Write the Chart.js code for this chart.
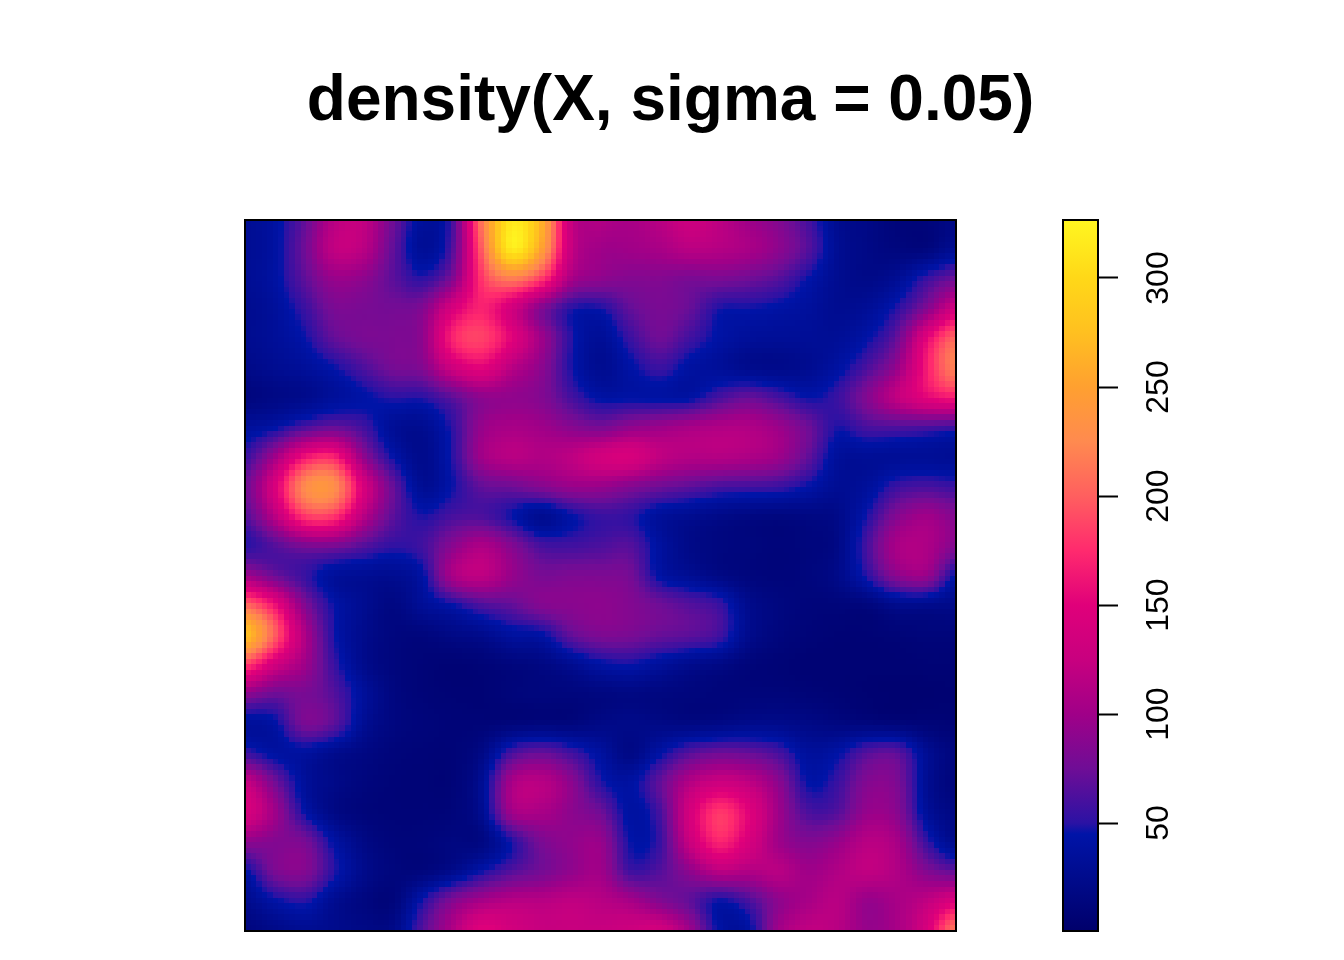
<!DOCTYPE html>
<html>
<head>
<meta charset="utf-8">
<title>density(X, sigma = 0.05)</title>
<script src="https://cdn.jsdelivr.net/npm/chart.js@4"></script>
<style>
  html, body { margin: 0; padding: 0; background: #fff; overflow: hidden; }
  canvas { position: absolute; top: 0; }
  #heat { left: 0; }
  #bar { left: 1000px; }
</style>
</head>
<body>
<canvas id="heat" width="1344" height="960"></canvas>
<canvas id="bar" width="344" height="960"></canvas>
<script>
/* =================================================
  Data (top row first)
==================================================== */

const titleText = 'density(X, sigma = 0.05)';

const density = [
  [30,40,70,115,120,75,35,60,215,315,265,125,110,105,115,128,118,100,85,60,28,20,12,12,20],
  [30,40,75,120,115,70,32,65,200,315,250,125,100,100,105,115,112,105,90,65,30,20,15,15,30],
  [30,40,68,95,90,68,52,85,180,215,180,105,90,85,85,80,80,75,65,45,28,22,30,55,75],
  [27,35,55,80,80,78,85,140,170,135,85,50,47,70,80,72,48,46,42,36,28,32,50,85,135],
  [27,33,45,70,80,82,92,170,185,150,100,50,32,55,75,58,42,34,32,32,32,44,72,150,205],
  [22,28,34,45,62,78,85,130,150,115,90,48,28,42,55,40,34,26,24,28,40,62,95,165,220],
  [15,20,25,35,43,50,50,68,90,92,85,60,42,43,42,42,60,72,60,46,55,85,120,150,165],
  [35,43,62,72,58,32,28,52,95,105,100,88,80,92,98,105,110,110,98,75,48,60,62,60,56],
  [55,100,160,170,92,45,25,50,100,115,110,118,135,140,120,112,112,108,98,70,35,32,32,32,30],
  [75,140,225,230,140,72,30,46,70,75,85,95,95,85,75,68,60,58,55,44,30,35,55,60,55],
  [65,115,180,180,115,68,48,60,62,46,28,44,55,52,35,28,22,18,16,18,22,48,85,100,85],
  [50,65,80,80,65,52,58,88,108,85,60,58,62,65,38,22,16,14,12,14,20,60,105,108,85],
  [100,75,55,35,30,28,42,105,118,95,80,82,82,78,42,30,20,14,12,14,22,50,88,95,42],
  [205,160,85,45,28,18,32,45,62,70,85,88,90,85,75,65,55,25,16,12,12,14,25,25,22],
  [275,200,110,48,25,15,14,20,25,38,42,70,82,80,72,68,58,25,14,10,8,8,10,12,12],
  [185,135,100,55,25,14,10,8,10,14,18,28,42,46,36,26,20,12,9,7,7,7,7,8,8],
  [90,75,80,65,35,16,10,8,8,12,14,14,16,18,16,14,12,12,12,10,8,6,5,5,6],
  [35,42,80,68,30,16,12,10,10,12,14,14,20,22,20,18,20,24,24,20,16,14,12,10,8],
  [55,40,38,26,18,12,10,10,20,60,72,58,38,20,42,65,75,72,60,36,42,65,68,30,14],
  [125,78,35,22,14,10,9,10,30,105,115,90,50,40,70,112,130,120,90,45,55,85,82,30,12],
  [140,100,45,20,12,10,10,12,28,100,105,90,75,40,60,135,180,150,100,62,65,95,88,35,18],
  [90,85,80,42,20,12,12,16,18,48,80,92,95,46,55,125,170,140,100,85,95,115,105,55,25],
  [42,80,85,50,24,14,14,25,46,65,78,92,100,58,65,90,115,110,115,100,110,120,110,85,70],
  [25,42,50,28,16,13,48,85,105,115,115,120,115,105,85,70,45,60,90,105,115,95,105,120,145],
  [15,22,28,25,20,22,65,110,150,135,125,125,125,130,135,100,42,40,100,120,115,95,105,140,215]
];

const colourValues = [0.5, 45, 50, 75, 100, 125, 150, 175, 200, 225, 250, 275, 300, 326.6];
const colourStops = ['#00006b', '#0014a8', '#2b12a4', '#6f0d96', '#a00088', '#c8007f', '#e0007a',
  '#ff2a6e', '#ff5f5f', '#ff8a4f', '#ffa030', '#ffc020', '#ffd818', '#fff620'];
const barTicks = [50, 100, 150, 200, 250, 300];

const imageCells = 128;

/* =================================================
  Colour helpers
==================================================== */

const stopRgb = colourStops.map(c => [1, 3, 5].map(i => parseInt(c.substr(i, 2), 16)));

function colourFor(v) {
  const last = colourValues.length - 1;
  if (v <= colourValues[0]) return stopRgb[0];
  if (v >= colourValues[last]) return stopRgb[last];
  let i = 0;
  while (colourValues[i + 1] < v) i++;
  const t = (v - colourValues[i]) / (colourValues[i + 1] - colourValues[i]);
  return stopRgb[i].map((c, k) => c + (stopRgb[i + 1][k] - c) * t);
}

// smooth resampling of the read grid, only for painting the image
function cubic(a, b, c, d, t) {
  return b + 0.5 * t * (c - a + t * (2 * a - 5 * b + 4 * c - d + t * (3 * (b - c) + d - a)));
}

function sampleGrid(gx, gy) {
  const n = density.length - 1;
  const px = gx * n, py = gy * n;
  const ix = Math.min(Math.floor(px), n - 1), iy = Math.min(Math.floor(py), n - 1);
  const clamp = i => Math.max(0, Math.min(n, i));
  const rows = [-1, 0, 1, 2].map(r => {
    const row = density[clamp(iy + r)];
    return cubic(row[clamp(ix - 1)], row[ix], row[ix + 1], row[clamp(ix + 2)], px - ix);
  });
  return cubic(rows[0], rows[1], rows[2], rows[3], py - iy);
}

/* =================================================
  Density image
==================================================== */

const heatPoints = [];
density.forEach((row, j) => {
  row.forEach((v, i) => {
    heatPoints.push({ x: i / (row.length - 1), y: 1 - j / (density.length - 1), v: v });
  });
});

const heatPlugin = {
  id: 'heatImage',
  beforeDatasetsDraw(chart) {
    const { ctx, scales: { x, y } } = chart;
    const off = document.createElement('canvas');
    off.width = imageCells;
    off.height = imageCells;
    const offCtx = off.getContext('2d');
    const img = offCtx.createImageData(imageCells, imageCells);
    for (let r = 0; r < imageCells; r++) {
      for (let c = 0; c < imageCells; c++) {
        const rgb = colourFor(sampleGrid((c + 0.5) / imageCells, (r + 0.5) / imageCells));
        const p = (r * imageCells + c) * 4;
        img.data[p] = rgb[0];
        img.data[p + 1] = rgb[1];
        img.data[p + 2] = rgb[2];
        img.data[p + 3] = 255;
      }
    }
    offCtx.putImageData(img, 0, 0);
    const left = x.getPixelForValue(0), right = x.getPixelForValue(1);
    const top = y.getPixelForValue(1), bottom = y.getPixelForValue(0);
    ctx.save();
    ctx.imageSmoothingEnabled = false;
    ctx.drawImage(off, left, top, right - left, bottom - top);
    ctx.lineWidth = 2;
    ctx.strokeStyle = '#000';
    ctx.strokeRect(left, top, right - left, bottom - top);
    ctx.restore();
  }
};

new Chart(document.getElementById('heat'), {
  type: 'scatter',
  data: { datasets: [{ label: 'density', data: heatPoints, pointRadius: 0 }] },
  options: {
    responsive: false,
    animation: false,
    layout: { padding: { top: 64, bottom: 29, left: 0, right: 3 } },
    scales: {
      x: { type: 'linear', min: 0, max: 1, display: false },
      y: {
        type: 'linear', min: 0, max: 1, position: 'left',
        ticks: { display: false }, grid: { display: false }, border: { display: false },
        afterFit: s => { s.width = 245; }
      },
      yRight: {
        type: 'linear', min: 0, max: 1, position: 'right',
        ticks: { display: false }, grid: { display: false }, border: { display: false },
        afterFit: s => { s.width = 385; }
      }
    },
    plugins: {
      legend: { display: false },
      tooltip: { enabled: false },
      title: {
        display: true,
        text: titleText,
        color: '#000',
        font: { family: '"Liberation Sans"', size: 64, weight: 'bold' },
        padding: { top: 0, bottom: 79.2 }
      }
    }
  },
  plugins: [heatPlugin]
});

/* =================================================
  Colour bar
==================================================== */

const barPlugin = {
  id: 'colourBar',
  beforeDatasetsDraw(chart) {
    const { ctx, chartArea: a, scales: { y } } = chart;
    const grad = ctx.createLinearGradient(0, y.getPixelForValue(colourValues[0]), 0,
      y.getPixelForValue(colourValues[colourValues.length - 1]));
    colourValues.forEach((v, i) => {
      grad.addColorStop((v - colourValues[0]) / (colourValues[colourValues.length - 1] - colourValues[0]), colourStops[i]);
    });
    ctx.save();
    ctx.fillStyle = grad;
    ctx.fillRect(a.left, a.top, a.width, a.height);
    ctx.lineWidth = 2;
    ctx.strokeStyle = '#000';
    ctx.strokeRect(a.left, a.top, a.width, a.height);
    ctx.restore();
  }
};

new Chart(document.getElementById('bar'), {
  type: 'scatter',
  data: { datasets: [{ label: 'scale', data: barTicks.map(v => ({ x: 0, y: v })), pointRadius: 0 }] },
  options: {
    responsive: false,
    animation: false,
    layout: { padding: { top: 220, bottom: 29, left: 63, right: 0 } },
    scales: {
      x: { type: 'linear', min: 0, max: 1, display: false },
      y: {
        type: 'linear', min: colourValues[0], max: colourValues[colourValues.length - 1], position: 'right',
        afterBuildTicks: s => { s.ticks = barTicks.map(v => ({ value: v })); },
        afterFit: s => {
          s.width = 246;
          s.paddingTop = 0;
          s.paddingBottom = 0;
        },
        border: { display: false },
        grid: { drawOnChartArea: false, drawTicks: true, tickLength: 20, tickColor: '#000', tickWidth: 2 },
        ticks: {
          minRotation: 90, maxRotation: 90, crossAlign: 'center', padding: 14, color: '#000',
          autoSkip: false,
          font: { family: '"Liberation Sans"', size: 32 }
        }
      }
    },
    plugins: { legend: { display: false }, tooltip: { enabled: false }, title: { display: false } }
  },
  plugins: [barPlugin]
});
</script>
</body>
</html>
